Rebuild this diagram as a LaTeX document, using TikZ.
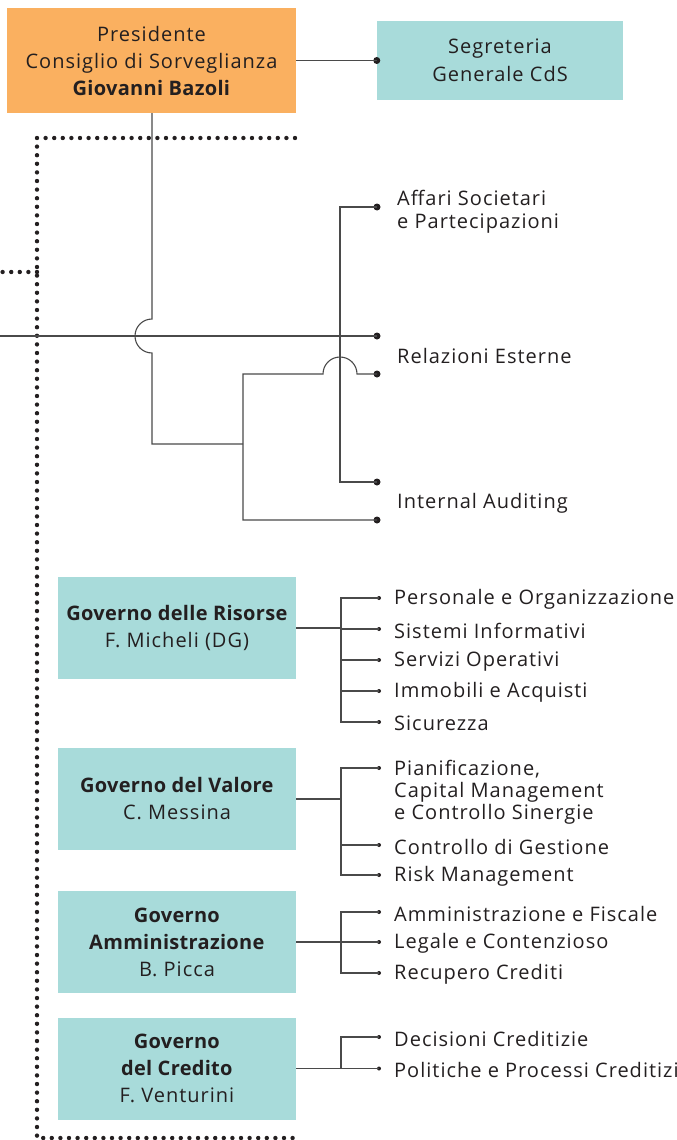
\documentclass[tikz,border=0pt]{standalone}
\usepackage{fontspec}
\setmainfont{Open Sans}[LetterSpace=5, BoldFeatures={LetterSpace=1.5}]
\definecolor{orangefill}{HTML}{FAB060}
\definecolor{tealfill}{HTML}{A8DBDA}
\definecolor{txt}{HTML}{231F20}
\definecolor{linec}{HTML}{4A4A4A}
\tikzset{
  boxtext/.style={font=\fontsize{20}{27}\selectfont, text=txt, align=center, inner sep=0pt},
  orangebox/.style={boxtext, fill=orangefill, minimum width=289pt, minimum height=105pt},
  topbox/.style={boxtext, fill=tealfill, minimum width=246pt, minimum height=79pt, font=\fontsize{20}{28}\selectfont},
  govbox/.style={boxtext, fill=tealfill, minimum width=238pt, minimum height=102pt},
  conn/.style={draw=linec, line width=1.1pt},
  bigdot/.style={circle, fill=txt, inner sep=0pt, minimum size=7pt},
  smalldot/.style={circle, fill=txt, inner sep=0pt, minimum size=4pt},
  toplabel/.style={anchor=west, text=txt, align=left, inner sep=0pt, yshift=-2pt, font=\fontsize{20}{23}\selectfont},
  item/.style={anchor=west, text=txt, align=left, inner sep=0pt, yshift=-1.5pt, font=\fontsize{20}{22}\selectfont},
  dotline/.style={draw=txt, line width=4.4pt, line cap=round, dash pattern=on 0pt off 8.6pt},
}
\begin{document}
\begin{tikzpicture}[x=1pt,y=1pt]
\useasboundingbox (0,0) rectangle (677,-1140);
% dotted frame
\draw[dotline] (295,-138) -- (37,-138) -- (37,-1138) -- (295,-1138);
\draw[dotline] (37,-272) -- (0,-272);
% top boxes
\node[orangebox] (pres) at (151.5,-60.5) {Presidente\\Consiglio di Sorveglianza\\\textbf{Giovanni Bazoli}};
\node[topbox] (seg) at (500,-60.5) {Segreteria\\Generale CdS};
\node[bigdot] (segdot) at (seg.west) {};
\draw[conn] (pres.east) -- (segdot.center);
% top right labels
\node[bigdot] (a1) at (377,-207) {};
\node[bigdot] (r1) at (377,-336) {};
\node[bigdot] (r2) at (377,-374) {};
\node[bigdot] (i1) at (377,-482) {};
\node[bigdot] (i2) at (377,-520) {};
\node[toplabel] (affari) at (397,-210) {Affari Societari\\e Partecipazioni};
\node[toplabel] (relaz) at (397,-354) {Relazioni Esterne};
\node[toplabel] (audit) at (397,-501) {Internal Auditing};
\coordinate (leftend) at (0,-336);
\coordinate (hopA) at (152,-319);
\coordinate (hopB) at (323,-374);
% connectors
\draw[conn] (leftend) -- (r1.center);
\draw[conn] (a1.center) -| (340,-482) -- (i1.center);
\draw[conn] (pres.south -| hopA) -- (hopA) arc[start angle=90, end angle=270, radius=17] -- (152,-444) -- (243,-444);
\draw[conn] (i2.center) -| (243,-374) -- (hopB) arc[start angle=180, end angle=0, radius=17] -- (r2.center);
% governance boxes
\node[govbox] (g1) at (177,-628) {\textbf{Governo delle Risorse}\\F. Micheli (DG)};
\node[govbox] (g2) at (177,-799) {\textbf{Governo del Valore}\\C. Messina};
\node[govbox] (g3) at (177,-942) {\textbf{Governo}\\\textbf{Amministrazione}\\B. Picca};
\node[govbox] (g4) at (177,-1068.5) {\textbf{Governo}\\\textbf{del Credito}\\F. Venturini};
% group 1
\foreach \n/\y/\t in {11/598/Personale e Organizzazione,12/629/Sistemi Informativi,13/660/Servizi Operativi,14/691/Immobili e Acquisti,15/722/Sicurezza}{
  \node[smalldot] (d\n) at (379,-\y) {};
  \node[item] (t\n) at (394,-\y) {\t};
}
\draw[conn] (g1.east) -- (g1.east -| 341,0);
\draw[conn] (d11.center) -| (341,-722) -- (d15.center);
\foreach \n in {12,13,14}{\draw[conn] (d\n.center) -- (341,0 |- d\n.center);}
% group 2
\node[smalldot] (d21) at (379,-768) {};
\node[item] (t21) at (394,-791) {Pianificazione,\\Capital Management\\e Controllo Sinergie};
\foreach \n/\y/\t in {22/845/Controllo di Gestione,23/875/Risk Management}{
  \node[smalldot] (d\n) at (379,-\y) {};
  \node[item] (t\n) at (394,-\y) {\t};
}
\draw[conn] (g2.east) -- (g2.east -| 341,0);
\draw[conn] (d21.center) -| (341,-875) -- (d23.center);
\draw[conn] (d22.center) -- (341,-845);
% group 3
\foreach \n/\y/\t in {31/912/Amministrazione e Fiscale,32/942/Legale e Contenzioso,33/973/Recupero Crediti}{
  \node[smalldot] (d\n) at (379,-\y) {};
  \node[item] (t\n) at (394,-\y) {\t};
}
\draw[conn] (g3.east) -- (d32.center);
\draw[conn] (d31.center) -| (341,-973) -- (d33.center);
% group 4
\foreach \n/\y/\t in {41/1037/Decisioni Creditizie,42/1068.5/Politiche e Processi Creditizi}{
  \node[smalldot] (d\n) at (379,-\y) {};
  \node[item] (t\n) at (394,-\y) {\t};
}
\draw[conn] (g4.east) -- (g4.east -| 341,0);
\draw[conn] (d41.center) -| (341,-1068.5) -- (d42.center);
\end{tikzpicture}
\end{document}
